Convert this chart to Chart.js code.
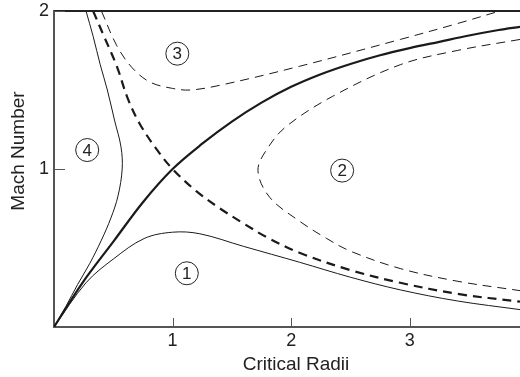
<!DOCTYPE html>
<html>
<head>
<meta charset="utf-8">
<script src="https://cdn.jsdelivr.net/npm/chart.js@4/dist/chart.umd.min.js"></script>
<style>
html,body{margin:0;padding:0;background:#fff;}
#wrap{width:520px;height:377px;position:relative;}
</style>
</head>
<body>
<div id="wrap"><canvas id="c"></canvas></div>
<script>
// Tick labels and axis titles
const xTicks = [1, 2, 3];
const yTicks = [1, 2];
const xTitle = 'Critical Radii';
const yTitle = 'Mach Number';

// Critical accelerating (wind) solution - thick solid
const windR = [0, 0.24, 0.51, 0.75, 1.0, 1.25, 1.5, 1.75, 2.0, 2.25, 2.5, 2.75, 3.0, 3.25, 3.5, 3.75, 3.93];
const windM = [0, 0.28, 0.55, 0.79, 1.0, 1.16, 1.30, 1.42, 1.52, 1.60, 1.665, 1.72, 1.765, 1.805, 1.845, 1.88, 1.90];

// Critical decelerating solution - thick dashed
const accR = [0.33, 0.41, 0.53, 0.62, 0.72, 0.86, 1.0, 1.2, 1.4, 1.6, 1.79, 2.07, 2.5, 2.92, 3.4, 3.93];
const accM = [2.0, 1.86, 1.65, 1.45, 1.29, 1.13, 1.0, 0.86, 0.75, 0.655, 0.57, 0.47, 0.36, 0.28, 0.21, 0.16];

// Region 1 - subsonic breeze, thin solid
const breezeR = [0, 0.27, 0.5, 0.76, 1.0, 1.23, 1.6, 2.07, 2.5, 2.92, 3.4, 3.93];
const breezeM = [0, 0.28, 0.43, 0.56, 0.60, 0.59, 0.51, 0.41, 0.315, 0.235, 0.165, 0.11];

// Region 4 - thin solid turning back
const turnR = [0, 0.10, 0.20, 0.30, 0.40, 0.48, 0.54, 0.575, 0.565, 0.51, 0.45, 0.39, 0.33, 0.27];
const turnM = [0, 0.13, 0.27, 0.40, 0.55, 0.69, 0.83, 1.0, 1.14, 1.31, 1.50, 1.66, 1.84, 2.0];

// Region 3 - supersonic, thin dashed
const superR = [0.40, 0.53, 0.66, 0.81, 1.0, 1.15, 1.4, 2.07, 2.92, 3.4, 3.76];
const superM = [2.0, 1.78, 1.64, 1.55, 1.51, 1.50, 1.53, 1.65, 1.82, 1.92, 2.0];

// Region 2 - thin dashed loop
const loopR = [3.93, 3.4, 2.92, 2.35, 1.96, 1.80, 1.72, 1.82, 2.07, 2.3, 2.5, 2.92, 3.4, 3.93];
const loopM = [1.82, 1.75, 1.66, 1.46, 1.27, 1.13, 0.99, 0.82, 0.67, 0.56, 0.48, 0.37, 0.29, 0.23];

// Region labels
const regionNames = ['1', '2', '3', '4'];
const regionR = [1.12, 2.43, 1.04, 0.28];
const regionM = [0.34, 0.99, 1.73, 1.12];

function pts(xs, ys){ return xs.map((x,i)=>({x:x, y:ys[i]})); }

const ink = '#1a1a1a';
const FAM = '"Liberation Sans", Arial, Helvetica, sans-serif';
function ds(xs, ys, width, dash){
  return {data: pts(xs, ys), showLine: true, borderColor: ink, borderWidth: width,
    borderDash: dash, pointRadius: 0, tension: 0.35, fill: false};
}

const decor = {
  id: 'decor',
  afterDraw(chart){
    const ctx = chart.ctx, a = chart.chartArea;
    const xs = chart.scales.x, ys = chart.scales.y;
    ctx.save();
    // top border
    ctx.strokeStyle = '#222'; ctx.lineWidth = 2;
    ctx.beginPath(); ctx.moveTo(a.left, a.top); ctx.lineTo(a.right, a.top); ctx.stroke();
    // inward ticks
    ctx.strokeStyle = '#555'; ctx.lineWidth = 1;
    xTicks.forEach(v=>{
      const px = Math.round(xs.getPixelForValue(v)) + 0.5;
      ctx.beginPath(); ctx.moveTo(px, a.bottom); ctx.lineTo(px, a.bottom - 9); ctx.stroke();
    });
    yTicks.forEach(v=>{
      const py = Math.round(ys.getPixelForValue(v)) + 0.5;
      ctx.beginPath(); ctx.moveTo(a.left, py); ctx.lineTo(a.left + 11, py); ctx.stroke();
    });
    // circled region labels
    ctx.font = '17px ' + FAM;
    ctx.textAlign = 'center'; ctx.textBaseline = 'middle';
    regionNames.forEach((n,i)=>{
      const cx = xs.getPixelForValue(regionR[i]), cy = ys.getPixelForValue(regionM[i]);
      ctx.strokeStyle = '#222'; ctx.lineWidth = 1;
      ctx.beginPath(); ctx.arc(cx, cy, 11.5, 0, Math.PI*2); ctx.stroke();
      ctx.fillStyle = '#222'; ctx.fillText(n, cx, cy + 1);
    });
    // axis titles
    ctx.font = '19px ' + FAM;
    ctx.fillStyle = '#222';
    ctx.fillText(xTitle, (a.left + a.right) / 2 + 9, a.bottom + 38);
    ctx.translate(19, (a.top + a.bottom) / 2 - 18);
    ctx.rotate(-Math.PI / 2);
    ctx.fillText(yTitle, 0, 0);
    ctx.restore();
  }
};

new Chart(document.getElementById('c'), {
  type: 'scatter',
  data: { datasets: [
    ds(breezeR, breezeM, 1, []),
    ds(turnR, turnM, 1, []),
    ds(superR, superM, 1, [9, 6]),
    ds(loopR, loopM, 1, [9, 6]),
    ds(accR, accM, 2.2, [9, 6]),
    ds(windR, windM, 2.2, [])
  ]},
  options: {
    responsive: true, maintainAspectRatio: false, animation: false,
    layout: { padding: { top: 11, right: 0, left: 0, bottom: 0 } },
    plugins: { legend: { display: false }, tooltip: { enabled: false } },
    scales: {
      x: {
        type: 'linear', min: 0, max: 3.93,
        afterFit(s){ s.height = 50; s.paddingLeft = 0; s.paddingRight = 0; },
        afterBuildTicks(s){ s.ticks = xTicks.map(v=>({value: v})); },
        grid: { display: false, drawTicks: false },
        border: { display: true, color: '#555', width: 2 },
        ticks: { color: '#222', padding: 3, font: { family: FAM, size: 18 }, maxRotation: 0 },
        title: { display: false }
      },
      y: {
        type: 'linear', min: 0, max: 2,
        afterFit(s){ s.width = 54; s.paddingTop = 0; s.paddingBottom = 0; },
        afterBuildTicks(s){ s.ticks = yTicks.map(v=>({value: v})); },
        grid: { display: false, drawTicks: false },
        border: { display: true, color: '#555', width: 2 },
        ticks: { color: '#222', padding: 5, font: { family: FAM, size: 18 } },
        title: { display: false }
      }
    }
  },
  plugins: [decor]
});
</script>
</body>
</html>
